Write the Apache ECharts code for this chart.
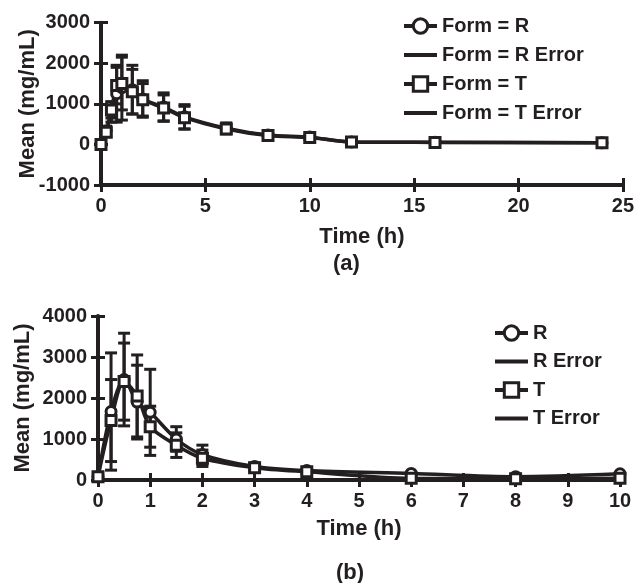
<!DOCTYPE html>
<html>
<head>
<meta charset="utf-8">
<title>Mean concentration vs time</title>
<script src="https://cdn.jsdelivr.net/npm/echarts@6/dist/echarts.min.js"></script>
<style>
html,body{margin:0;padding:0;background:#fff}
#main{width:637px;height:583px}
</style>
</head>
<body>
<div id="main"></div>
<script>
// panel (a)
var timeA = [0, 0.25, 0.5, 0.75, 1, 1.5, 2, 3, 4, 6, 8, 10, 12, 16, 24];
var meanAR = [0, 330, 800, 1250, 1400, 1350, 1120, 920, 680, 400, 230, 180, 60, 55, 40];
var errAR = [0, 120, 250, 700, 800, 600, 450, 350, 300, 130, 90, 50, 40, 30, 20];
var meanAT = [0, 300, 850, 1450, 1500, 1300, 1100, 900, 660, 380, 220, 170, 60, 50, 40];
var errAT = [0, 100, 200, 450, 650, 550, 400, 320, 280, 120, 80, 50, 40, 30, 20];
var namesA = ['Form = R', 'Form = R Error', 'Form = T', 'Form = T Error'];

// panel (b)
var timeB = [0, 0.25, 0.5, 0.75, 1, 1.5, 2, 3, 4, 6, 8, 10];
var meanBR = [80, 1670, 2450, 1900, 1650, 1000, 620, 330, 230, 160, 80, 150];
var errBR = [0, 1430, 1130, 900, 1050, 300, 230, 80, 60, 30, 20, 20];
var meanBT = [80, 1450, 2400, 2050, 1300, 850, 530, 300, 200, 40, 30, 40];
var errBT = [0, 1000, 940, 1000, 500, 300, 200, 80, 60, 20, 20, 20];
var namesB = ['R', 'R Error', 'T', 'T Error'];

var ink = '#231f20';
var font = '"Liberation Sans", Arial, sans-serif';

function pairs(t, v) {
    var out = [];
    for (var i = 0; i < t.length; i++) out.push([t[i], v[i]]);
    return out;
}
function triples(t, v, e) {
    var out = [];
    for (var i = 0; i < t.length; i++) out.push([t[i], v[i], e[i]]);
    return out;
}

//误差线
function errorBars(params, api) {
    var x = api.value(0), m = api.value(1), e = api.value(2);
    if (!e) return;
    var hi = api.coord([x, m + e]);
    var lo = api.coord([x, m - e]);
    var w = 6;
    var st = {stroke: ink, lineWidth: 3, fill: null};
    return {
        type: 'group',
        children: [
            {type: 'line', shape: {x1: hi[0], y1: hi[1], x2: lo[0], y2: lo[1]}, style: st},
            {type: 'line', shape: {x1: hi[0] - w, y1: hi[1], x2: hi[0] + w, y2: hi[1]}, style: st},
            {type: 'line', shape: {x1: lo[0] - w, y1: lo[1], x2: lo[0] + w, y2: lo[1]}, style: st}
        ]
    };
}

function lineSeries(name, idx, data, symbol) {
    return {
        name: name, type: 'line', xAxisIndex: idx, yAxisIndex: idx,
        data: data, smooth: 0.3, symbol: symbol, symbolSize: 10,
        lineStyle: {color: ink, width: 3.5},
        itemStyle: {color: '#fff', borderColor: ink, borderWidth: 3},
        z: 3, animation: false
    };
}
function errSeries(name, idx, data) {
    return {
        name: name, type: 'custom', xAxisIndex: idx, yAxisIndex: idx,
        data: data, renderItem: errorBars, encode: {x: 0, y: 1},
        itemStyle: {color: ink}, z: 2, animation: false
    };
}

function plain(v) { return String(v); }

function xAxisOf(grid, min, max, step, name, gap, inner) {
    return {
        type: 'value', gridIndex: grid, position: 'bottom', min: min, max: max, interval: step,
        name: inner ? '' : name, nameLocation: 'middle', nameGap: gap, nameMoveOverlap: false,
        nameTextStyle: {fontFamily: font, fontWeight: 'bold', fontSize: 22, color: ink},
        axisLine: {show: !inner, onZero: false, lineStyle: {color: ink, width: 4}},
        axisTick: {inside: inner, length: 7, lineStyle: {color: ink, width: 3}},
        axisLabel: {show: !inner, margin: 11, formatter: plain, fontFamily: font, fontWeight: 'bold', fontSize: 20, color: ink},
        splitLine: {show: false}
    };
}
function yAxisOf(grid, min, max, step, name, gap, inner) {
    return {
        type: 'value', gridIndex: grid, position: 'left', min: min, max: max, interval: step,
        name: inner ? '' : name, nameLocation: 'middle', nameGap: gap, nameRotate: 90, nameMoveOverlap: false,
        nameTextStyle: {fontFamily: font, fontWeight: 'bold', fontSize: 22, color: ink},
        axisLine: {show: !inner, onZero: false, lineStyle: {color: ink, width: 4}},
        axisTick: {inside: inner, length: 7, lineStyle: {color: ink, width: 3}},
        axisLabel: {show: !inner, margin: 11, formatter: plain, fontFamily: font, fontWeight: 'bold', fontSize: 20, color: ink},
        splitLine: {show: false}
    };
}

function legendOf(names, left, top, gap) {
    var bar = 'path://M0,0H33V4H0Z';
    var flat = {color: ink, borderWidth: 0};
    return {
        orient: 'vertical', left: left, top: top, selectedMode: false,
        itemWidth: 33, itemHeight: 18, itemGap: gap, padding: 0,
        lineStyle: {width: 4, color: ink},
        itemStyle: {color: '#fff', borderWidth: 3, borderColor: ink},
        textStyle: {fontFamily: font, fontWeight: 'bold', fontSize: 20, color: ink, lineHeight: 18},
        data: [
            {name: names[0]},
            {name: names[1], icon: bar, itemStyle: flat},
            {name: names[2]},
            {name: names[3], icon: bar, itemStyle: flat}
        ]
    };
}

var dom = document.getElementById('main');
var myChart = echarts.init(dom, null, {renderer: 'canvas'});
var option = {
    backgroundColor: '#fff',
    animation: false,
    grid: [
        {left: 101, top: 22.7, width: 522, height: 162.3},
        {left: 98, top: 316, width: 522, height: 164}
    ],
    xAxis: [
        xAxisOf(0, 0, 25, 5, 'Time (h)', 41, false),
        xAxisOf(1, 0, 10, 1, 'Time (h)', 38, false),
        xAxisOf(0, 0, 25, 5, '', 0, true),
        xAxisOf(1, 0, 10, 1, '', 0, true)
    ],
    yAxis: [
        yAxisOf(0, -1000, 3000, 1000, 'Mean (mg/mL)', 62, false),
        yAxisOf(1, 0, 4000, 1000, 'Mean (mg/mL)', 64, false),
        yAxisOf(0, -1000, 3000, 1000, '', 0, true),
        yAxisOf(1, 0, 4000, 1000, '', 0, true)
    ],
    legend: [
        legendOf(namesA, 402, 16, 9),
        legendOf(namesB, 493, 323, 8.5)
    ],
    graphic: [
        {type: 'text', left: 333, top: 253, style: {text: '(a)', fontFamily: font, fontWeight: 'bold', fontSize: 22, fill: ink}},
        {type: 'text', left: 336, top: 562, style: {text: '(b)', fontFamily: font, fontWeight: 'bold', fontSize: 22, fill: ink}}
    ],
    series: [
        errSeries(namesA[1], 0, triples(timeA, meanAR, errAR)),
        errSeries(namesA[3], 0, triples(timeA, meanAT, errAT)),
        lineSeries(namesA[0], 0, pairs(timeA, meanAR), 'circle'),
        lineSeries(namesA[2], 0, pairs(timeA, meanAT), 'rect'),
        errSeries(namesB[1], 1, triples(timeB, meanBR, errBR)),
        errSeries(namesB[3], 1, triples(timeB, meanBT, errBT)),
        lineSeries(namesB[0], 1, pairs(timeB, meanBR), 'circle'),
        lineSeries(namesB[2], 1, pairs(timeB, meanBT), 'rect')
    ]
};
if (option && typeof option === "object") {
    myChart.setOption(option, true);
}
</script>
</body>
</html>
